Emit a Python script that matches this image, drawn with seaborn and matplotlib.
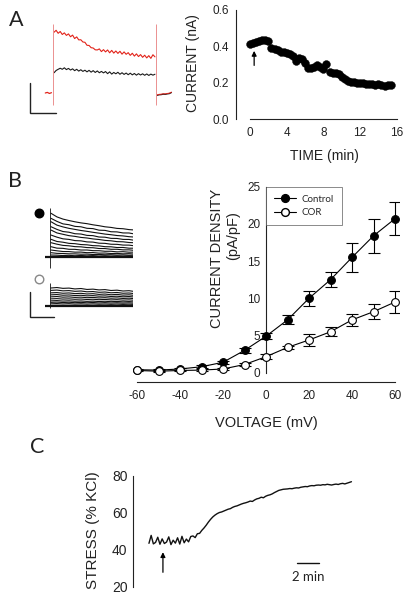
import numpy as np
import pandas as pd
import matplotlib
matplotlib.use("Agg")
import matplotlib.pyplot as plt
import seaborn as sns
from matplotlib.lines import Line2D

# ---------------- data ----------------
# Panel A (right): current vs time
a_time = [0, 0.33, 0.67, 1.0, 1.33, 1.67, 2.0, 2.33, 2.67, 3.0, 3.33, 3.67, 4.0, 4.33, 4.67,
          5.0, 5.33, 5.67, 6.0, 6.33, 6.67, 7.0, 7.33, 7.67, 8.0, 8.33, 8.67, 9.0, 9.33, 9.67,
          10.0, 10.33, 10.67, 11.0, 11.33, 11.67, 12.0, 12.33, 12.67, 13.0, 13.33, 13.67,
          14.0, 14.33, 14.67, 15.0, 15.33]
a_current = [0.415, 0.42, 0.425, 0.43, 0.435, 0.435, 0.43, 0.39, 0.385, 0.38, 0.37, 0.37,
             0.365, 0.36, 0.345, 0.32, 0.335, 0.33, 0.31, 0.28, 0.28, 0.285, 0.295, 0.285,
             0.275, 0.305, 0.26, 0.255, 0.255, 0.245, 0.23, 0.22, 0.21, 0.205, 0.205, 0.2,
             0.2, 0.2, 0.195, 0.19, 0.19, 0.185, 0.19, 0.185, 0.18, 0.185, 0.185]
a_xticks = [0, 4, 8, 12, 16]
a_yticks = [0.0, 0.2, 0.4, 0.6]

# Panel A (left): raw current traces (nA), sampled every 8 ms during a 400 ms step
a_dt = 8
a_red = [0.405, 0.418, 0.398, 0.410, 0.390, 0.401, 0.384, 0.394, 0.375, 0.386,
         0.363, 0.374, 0.354, 0.355, 0.340, 0.338, 0.318, 0.317, 0.302, 0.300,
         0.288, 0.287, 0.294, 0.276, 0.289, 0.274, 0.287, 0.268, 0.284, 0.266,
         0.280, 0.264, 0.278, 0.259, 0.274, 0.258, 0.269, 0.251, 0.265, 0.246,
         0.261, 0.243, 0.256, 0.238, 0.252, 0.234, 0.249, 0.231, 0.255, 0.241]
a_black = [0.135, 0.150, 0.158, 0.165, 0.158, 0.168, 0.156, 0.164, 0.153, 0.161,
           0.149, 0.158, 0.146, 0.155, 0.144, 0.152, 0.141, 0.151, 0.139, 0.149,
           0.137, 0.147, 0.135, 0.144, 0.134, 0.143, 0.129, 0.141, 0.126, 0.137,
           0.128, 0.138, 0.125, 0.135, 0.124, 0.133, 0.122, 0.132, 0.121, 0.130,
           0.119, 0.129, 0.120, 0.128, 0.118, 0.127, 0.117, 0.126, 0.119, 0.125]
a_pre = [0.0, 0.004, -0.003, 0.002]          # holding current before step
a_post = [-0.016, -0.012, -0.011, -0.008, -0.009, -0.006, -0.004, 0.003]   # tail after step
a_transient = [-0.08, 0.46]                  # capacitive transient extent (nA)

# Panel B (right): I-V relation
b_voltage = [-60, -50, -40, -30, -20, -10, 0, 10, 20, 30, 40, 50, 60]
b_control = [0.4, 0.35, 0.5, 0.8, 1.4, 3.0, 4.9, 7.1, 10.0, 12.5, 15.5, 18.4, 20.7]
b_control_err = [0.1, 0.1, 0.1, 0.2, 0.2, 0.3, 0.4, 0.6, 1.0, 1.0, 1.9, 2.3, 2.2]
b_cor = [0.3, 0.2, 0.3, 0.35, 0.5, 1.1, 2.15, 3.4, 4.4, 5.5, 7.1, 8.2, 9.5]
b_cor_err = [0.1, 0.1, 0.1, 0.1, 0.1, 0.2, 0.3, 0.2, 0.8, 0.6, 0.8, 1.0, 1.5]
b_xticks = [-60, -40, -20, 0, 20, 40, 60]
b_yticks = [0, 5, 10, 15, 20, 25]

# Panel B (left): families of raw traces (pA), 20 samples over a 500 ms step
b_step_ms = 500
b_ctrl_traces = [
    [840, 770, 728, 700, 676, 655, 640, 618, 601, 580, 568, 549, 543, 526, 518, 503, 494, 478, 466, 455],
    [743, 684, 636, 620, 588, 580, 551, 545, 515, 511, 485, 482, 462, 461, 440, 439, 416, 415, 396, 394],
    [678, 612, 578, 550, 530, 509, 493, 474, 458, 440, 428, 412, 405, 390, 382, 369, 359, 346, 338, 325],
    [582, 530, 489, 476, 447, 441, 415, 410, 384, 380, 358, 356, 338, 337, 318, 319, 298, 297, 280, 279],
    [518, 462, 436, 410, 396, 376, 365, 347, 336, 319, 311, 295, 292, 278, 273, 260, 253, 241, 236, 222],
    [422, 381, 349, 338, 315, 310, 290, 286, 265, 262, 245, 243, 229, 228, 213, 214, 197, 198, 182, 183],
    [340, 298, 284, 262, 256, 239, 234, 218, 214, 198, 196, 182, 183, 169, 169, 157, 156, 143, 143, 131],
    [275, 246, 223, 215, 199, 195, 181, 178, 163, 162, 148, 148, 137, 137, 126, 127, 115, 115, 104, 105],
    [198, 170, 166, 148, 147, 134, 134, 122, 121, 110, 110, 99, 102, 92, 94, 84, 85, 76, 78, 68],
    [134, 119, 105, 104, 93, 94, 83, 85, 74, 76, 67, 69, 61, 64, 55, 58, 49, 52, 44, 47],
    [83, 70, 67, 61, 60, 54, 55, 48, 49, 43, 44, 38, 40, 33, 36, 30, 32, 26, 29, 23],
    [38, 35, 28, 32, 24, 29, 22, 27, 19, 24, 17, 22, 16, 21, 14, 19, 12, 18, 11, 16],
    [5, 9, 2, 8, 3, 9, 1, 7, 4, 10, 2, 8, 3, 9, 1, 8, 4, 9, 2, 7],
]
b_cor_traces = [
    [340, 349, 333, 338, 322, 330, 312, 318, 303, 309, 292, 298, 282, 288, 271, 279, 262, 268, 252, 256],
    [294, 300, 285, 290, 276, 282, 267, 272, 257, 263, 248, 254, 239, 244, 230, 235, 221, 226, 212, 216],
    [247, 252, 239, 245, 232, 238, 225, 231, 217, 224, 210, 217, 203, 209, 196, 202, 189, 195, 182, 186],
    [208, 214, 201, 206, 195, 200, 189, 194, 183, 188, 177, 182, 171, 176, 165, 170, 159, 164, 153, 158],
    [170, 176, 164, 169, 159, 164, 154, 159, 149, 154, 144, 149, 139, 144, 134, 139, 129, 134, 124, 129],
    [131, 136, 127, 131, 123, 128, 119, 124, 115, 120, 111, 116, 107, 112, 103, 108, 99, 104, 95, 99],
    [93, 98, 89, 94, 86, 91, 83, 88, 80, 85, 77, 82, 74, 79, 71, 76, 68, 73, 65, 70],
    [64, 69, 61, 66, 58, 64, 56, 62, 53, 59, 51, 57, 49, 55, 46, 52, 44, 50, 42, 47],
    [36, 41, 33, 39, 31, 37, 29, 35, 28, 33, 26, 32, 25, 30, 23, 29, 22, 27, 20, 25],
    [3, 8, 2, 7, 4, 9, 1, 6, 3, 8, 2, 7, 4, 8, 1, 6, 3, 8, 2, 6],
]
b_ctrl_transient = [(-210, 940), (-210, 710)]   # onset / offset capacitive spikes (pA)
b_cor_transient = [(-45, 436), (-45, 300)]

# Panel C: stress trace, sampled every 0.2 min
c_dt = 0.2
c_stress = [43.5, 47.8, 43.2, 44.0, 46.8, 43.0, 45.9, 43.4, 44.2, 47.0,
            42.8, 45.2, 43.6, 46.5, 43.1, 47.3, 43.8, 45.8, 44.3, 47.2,
            47.5, 46.6, 48.7, 48.9, 50.5, 51.8, 53.3, 55.0, 56.5, 57.8,
            58.8, 59.6, 60.2, 60.5, 61.0, 61.5, 62.0, 62.3, 63.0, 63.5,
            63.8, 64.3, 64.8, 65.2, 65.5, 65.9, 66.4, 66.2, 67.0, 67.6,
            67.9, 68.5, 68.2, 69.0, 69.5, 69.8, 70.3, 71.0, 71.6, 72.2,
            72.5, 72.8, 72.9, 73.0, 73.2, 73.1, 73.4, 73.6, 73.5, 73.9,
            74.1, 74.3, 74.2, 74.6, 74.8, 74.7, 75.0, 75.1, 75.0, 75.3,
            75.2, 75.5, 75.3, 75.1, 75.4, 75.6, 75.4, 75.8, 76.0, 75.7,
            76.1, 76.5, 76.9]
c_yticks = [20, 40, 60, 80]

# ---------------- figure ----------------
sns.set_theme(style="white")
plt.rcParams['font.family'] = ['Liberation Sans', 'DejaVu Sans']
plt.rcParams['axes.linewidth'] = 0.8
plt.rcParams['axes.unicode_minus'] = False

W, H = 409, 600
fig = plt.figure(figsize=(W / 100, H / 100), dpi=100)


def add_ax(x0, y0, x1, y1):
    return fig.add_axes([x0 / W, 1 - y1 / H, (x1 - x0) / W, (y1 - y0) / H])


def fx(x):
    return x / W


def fy(y):
    return 1 - y / H


TICK = 8.5
LAB = 10.5
SPINE_C = '#222222'

def style_axis(ax):
    for s in ax.spines.values():
        s.set_color(SPINE_C)
        s.set_linewidth(0.8)
    ax.tick_params(direction='in', length=3.5, width=0.8, colors=SPINE_C,
                   labelsize=TICK, labelcolor='#222222', pad=4)

# ---- Panel A: traces ----
axa = add_ax(20, 15, 180, 120)
axa.set_xlim(-128.2, 493.2)
axa.set_ylim(-0.18, 0.52)
axa.axis('off')
t_step = [4 + a_dt * i for i in range(len(a_red))]
t_pre = [-30 + a_dt * i for i in range(len(a_pre))]
t_post = [404 + a_dt * i for i in range(len(a_post))]
sns.lineplot(x=t_step, y=a_black, ax=axa, color='#1a1a1a', lw=0.8)
sns.lineplot(x=t_step, y=a_red, ax=axa, color='#e2231a', lw=0.8)
sns.lineplot(x=t_pre, y=a_pre, ax=axa, color='#e2231a', lw=0.9)
sns.lineplot(x=t_post, y=a_post, ax=axa, color='#1a1a1a', lw=0.9)
sns.lineplot(x=t_post, y=[v + 0.003 for v in a_post], ax=axa, color='#e2231a', lw=0.7)
for tt in (0, 400):
    axa.vlines(tt, a_transient[0], a_transient[1], color='#eb9090', lw=0.7)
# scale bar: 100 ms, 0.2 nA
axa.plot([-90, -90, 10], [0.065, -0.135, -0.135], color='#222222', lw=1.0,
         solid_joinstyle='miter')

# ---- Panel A: time course ----
axr = add_ax(236, 10, 400, 119)
sns.scatterplot(x=a_time, y=a_current, ax=axr, color='black', s=32,
                edgecolor='black', linewidth=0.3, zorder=3)
axr.set_xlim(-1.53, 16.36)
axr.set_ylim(0, 0.6)
axr.set_xticks(a_xticks)
axr.set_yticks(a_yticks)
axr.set_yticklabels([f"{v:.1f}" for v in a_yticks])
axr.spines['top'].set_visible(False)
axr.spines['right'].set_visible(False)
axr.spines['left'].set_bounds(0, 0.6)
axr.spines['bottom'].set_bounds(0, 16)
style_axis(axr)
axr.tick_params(axis='x', pad=6)
axr.tick_params(axis='y', pad=5)
axr.annotate('', xy=(0.45, 0.375), xytext=(0.45, 0.295),
             arrowprops=dict(arrowstyle='-|>', color='black', lw=0.9,
                             mutation_scale=7, shrinkA=0, shrinkB=0))
fig.text(fx(193), fy(63), 'CURRENT (nA)', rotation=90, ha='center', va='center',
         fontsize=LAB - 0.5, color='#222222')
fig.text(fx(324), fy(156), 'TIME (min)', ha='center', va='center',
         fontsize=LAB - 0.5, color='#222222')

# ---- Panel B: traces ----
def trace_frame(traces):
    rows = []
    n = len(traces[0])
    for j, tr in enumerate(traces):
        for i, v in enumerate(tr):
            rows.append((j, 4 + i * (b_step_ms - 8) / (n - 1), v))
    return pd.DataFrame(rows, columns=['trace', 't', 'I'])

axbc = add_ax(20, 195, 185, 275)
axbc.set_xlim(-129.3, 581.9)
axbc.set_ylim(-345.6, 1190.4)
axbc.axis('off')
sns.lineplot(data=trace_frame(b_ctrl_traces), x='t', y='I', units='trace',
             estimator=None, color='#111111', lw=0.8, ax=axbc)
axbc.hlines(0, -22, 534, color='#111111', lw=1.6)
axbc.vlines(0, *b_ctrl_transient[0], color='#111111', lw=0.6)
axbc.vlines(b_step_ms, *b_ctrl_transient[1], color='#111111', lw=0.6)
axbc.vlines(543, -210, 0, color='#111111', lw=0.6)
axbc.scatter([-47], [845], s=38, color='black', zorder=3, clip_on=False)

axbo = add_ax(20, 276, 185, 330)
axbo.set_xlim(-129.3, 581.9)
axbo.set_ylim(-466.6, 570.2)
axbo.axis('off')
sns.lineplot(data=trace_frame(b_cor_traces), x='t', y='I', units='trace',
             estimator=None, color='#111111', lw=0.8, ax=axbo)
axbo.hlines(0, -22, 534, color='#111111', lw=1.6)
axbo.vlines(0, *b_cor_transient[0], color='#111111', lw=0.6)
axbo.vlines(b_step_ms, *b_cor_transient[1], color='#111111', lw=0.6)
axbo.vlines(543, -90, 0, color='#111111', lw=0.6)
axbo.scatter([-47], [513], s=38, facecolor='white', edgecolor='#888888',
             linewidth=1.0, zorder=3, clip_on=False)
# scale bar
axbo.plot([-86, -86, 17], [270, -225, -225], color='#222222', lw=1.0,
          solid_joinstyle='miter')

# ---- Panel B: I-V ----
axiv = add_ax(132.7, 184.5, 399.3, 382)
axiv.errorbar(b_voltage, b_control, yerr=b_control_err, fmt='none', ecolor='black',
              elinewidth=0.8, capsize=4, capthick=0.8, zorder=2)
axiv.errorbar(b_voltage, b_cor, yerr=b_cor_err, fmt='none', ecolor='black',
              elinewidth=0.8, capsize=4, capthick=0.8, zorder=2)
sns.lineplot(x=b_voltage, y=b_control, ax=axiv, color='black', lw=0.8,
             marker='o', markersize=5.6, markerfacecolor='black',
             markeredgecolor='black', zorder=3)
sns.lineplot(x=b_voltage, y=b_cor, ax=axiv, color='black', lw=0.8,
             marker='o', markersize=5.6, markerfacecolor='white',
             markeredgecolor='black', markeredgewidth=0.8, zorder=4)
axiv.set_xlim(-62, 62)
axiv.set_ylim(-1.25, 25.3)
axiv.set_xticks(b_xticks)
axiv.set_yticks(b_yticks)
axiv.spines['top'].set_visible(False)
axiv.spines['right'].set_visible(False)
axiv.spines['left'].set_position(('data', 0))
axiv.spines['left'].set_bounds(0, 25)
axiv.spines['bottom'].set_bounds(-60, 60)
style_axis(axiv)
axiv.tick_params(axis='x', pad=6)
handles = [Line2D([0], [0], color='black', lw=0.8, marker='o', ms=5.6,
                  markerfacecolor='black', markeredgecolor='black'),
           Line2D([0], [0], color='black', lw=0.8, marker='o', ms=5.6,
                  markerfacecolor='white', markeredgecolor='black')]
leg = axiv.legend(handles, ['Control', 'COR'], loc='upper left',
                  bbox_to_anchor=(fx(266), fy(187)), bbox_transform=fig.transFigure,
                  frameon=True, fancybox=False, borderaxespad=0, borderpad=0.8,
                  handlelength=2.3, handletextpad=0.6, labelspacing=0.45,
                  prop={'family': 'Lato', 'size': 7})
leg.get_frame().set_edgecolor('#555555')
leg.get_frame().set_linewidth(0.6)
fig.text(fx(217), fy(258), 'CURRENT DENSITY', rotation=90, ha='center', va='center',
         fontsize=LAB, color='#222222')
fig.text(fx(233), fy(236), '(pA/pF)', rotation=90, ha='center', va='center',
         fontsize=LAB, color='#222222')
fig.text(fx(266), fy(423), 'VOLTAGE (mV)', ha='center', va='center',
         fontsize=LAB, color='#222222')

# ---- Panel C ----
axc = add_ax(133, 470, 385, 590)
c_time = [i * c_dt for i in range(len(c_stress))]
sns.lineplot(x=c_time, y=c_stress, ax=axc, color='#111111', lw=1.0)
axc.set_xlim(-1.45, 21.45)
axc.set_ylim(18.2, 83.25)
axc.set_yticks(c_yticks)
axc.set_xticks([])
for s in ('top', 'right', 'bottom'):
    axc.spines[s].set_visible(False)
axc.spines['left'].set_bounds(20, 80)
style_axis(axc)
axc.tick_params(axis='y', labelsize=LAB - 0.5)
axc.annotate('', xy=(1.27, 38.7), xytext=(1.27, 27.8),
             arrowprops=dict(arrowstyle='-|>', color='black', lw=0.9,
                             mutation_scale=7, shrinkA=0, shrinkB=0))
axc.plot([13.45, 15.45], [32.8, 32.8], color='#111111', lw=1.0)
axc.text(14.45, 25.0, '2 min', ha='center', va='center', fontsize=9.5,
         family=['Lato', 'DejaVu Sans'], color='#222222')
fig.text(fx(93.5), fy(530), 'STRESS (% KCl)', rotation=90, ha='center', va='center',
         fontsize=LAB + 0.5, color='#222222')

# ---- Panel letters ----
for letter, (px, py) in {'A': (16, 20), 'B': (15.5, 181), 'C': (37.5, 447)}.items():
    fig.text(fx(px), fy(py), letter, ha='center', va='center', fontsize=15.5,
             family=['Lato', 'DejaVu Sans'], color='#222222')

fig.savefig('out.png', dpi=100)
